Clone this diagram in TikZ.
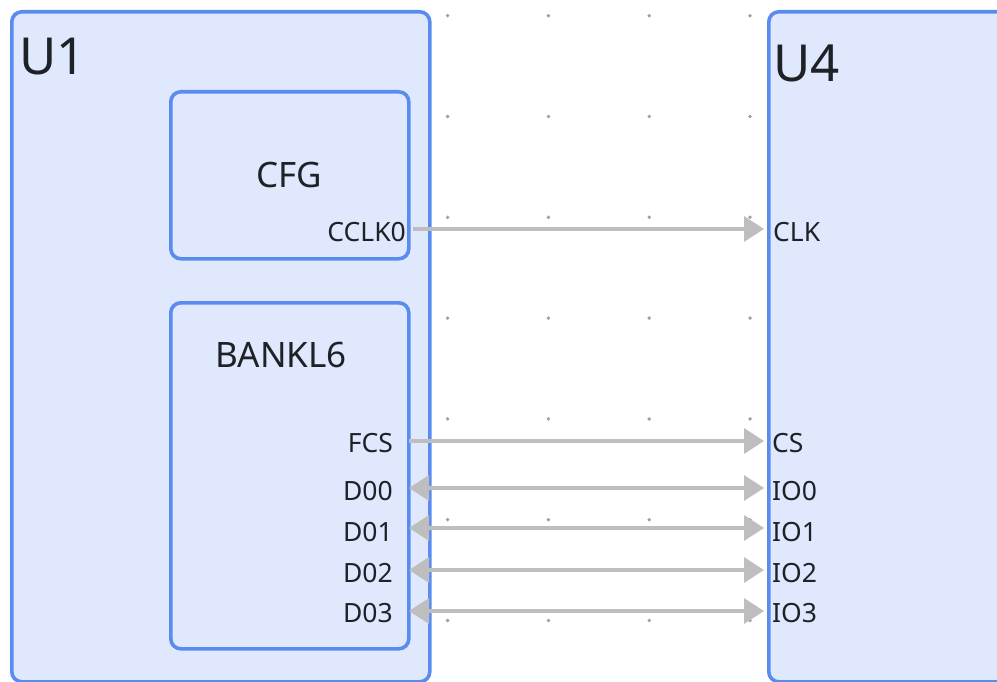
\documentclass[tikz,border=0pt]{standalone}
\usepackage{fontspec}
\setmainfont{Noto Sans}
\usetikzlibrary{arrows.meta}
\definecolor{boxfill}{HTML}{DFE8FC}
\definecolor{boxline}{HTML}{5A8CF0}
\definecolor{wire}{HTML}{BEBEBE}
\definecolor{ink}{HTML}{1E2126}
\definecolor{griddot}{HTML}{A0A0A0}
\begin{document}
\begin{tikzpicture}[x=1pt,y=-1pt,
  chip/.style={draw=boxline, fill=boxfill, line width=3.6pt, rounded corners=10pt,
    anchor=north west, inner sep=0pt},
  title/.style={text=ink, inner sep=0pt, font=\fontsize{51}{60}\selectfont},
  block/.style={text=ink, inner sep=0pt, font=\fontsize{35}{42}\selectfont},
  pinl/.style={text=ink, inner sep=0pt, anchor=base east, font=\fontsize{26.5}{32}\selectfont},
  pinr/.style={text=ink, inner sep=0pt, anchor=base west, font=\fontsize{26.5}{32}\selectfont},
  net/.style={draw=wire, line width=3.5pt},
  >={Triangle[length=20pt,width=25pt]}]
\useasboundingbox (0,0) rectangle (997,682);
\clip (0,0) rectangle (997,682);
\fill[white] (0,0) rectangle (997,682);

% background dot grid
\foreach \i in {0,...,3}
  \foreach \j in {0,...,6}
    \fill[griddot] (447.6+100.8*\i, 15.7+100.8*\j) circle (1.9pt);

% chips and internal blocks
\node[chip, minimum width=418pt, minimum height=670pt] (u1) at (10,10) {};
\node[chip, minimum width=260pt, minimum height=670pt] (u4) at (767,10) {};
\node[chip, minimum width=238pt, minimum height=167pt] (cfg) at (169,90) {};
\node[chip, minimum width=238pt, minimum height=346pt] (bank) at (169,301) {};

% titles
\node[title, anchor=base west] (u1t) at (19,75) {U1};
\node[title, anchor=base west] (u4t) at (773,82) {U4};
\node[block, anchor=base] (cfgt) at (289,188) {CFG};
\node[block, anchor=base] (bankt) at (281,367) {BANKL6};

% pin labels, U1 side
\node[pinl] (lcclk) at (406,242) {CCLK0};
\node[pinl] (lfcs) at (393,452) {FCS};
\node[pinl] (ld0) at (393,500) {D00};
\node[pinl] (ld1) at (393,541) {D01};
\node[pinl] (ld2) at (393,582) {D02};
\node[pinl] (ld3) at (393,622) {D03};

% pin labels, U4 side
\node[pinr] (rclk) at (773,242) {CLK};
\node[pinr] (rcs) at (772,452) {CS};
\node[pinr] (rio0) at (772,500) {IO0};
\node[pinr] (rio1) at (772,541) {IO1};
\node[pinr] (rio2) at (772,582) {IO2};
\node[pinr] (rio3) at (772,622) {IO3};

% pin points
\coordinate (pcclk) at (413,229);
\coordinate (pfcs) at (409,441);
\coordinate (pd0) at (409,488);
\coordinate (pd1) at (409,528);
\coordinate (pd2) at (409,570);
\coordinate (pd3) at (409,611);
\coordinate (pclk) at (764,229);
\coordinate (pcs) at (764,441);
\coordinate (pio0) at (764,488);
\coordinate (pio1) at (764,528);
\coordinate (pio2) at (764,570);
\coordinate (pio3) at (764,611);

% nets
\draw[net, ->] (pcclk) -- (pclk);
\draw[net, ->] (pfcs) -- (pcs);
\draw[net, <->] (pd0) -- (pio0);
\draw[net, <->] (pd1) -- (pio1);
\draw[net, <->] (pd2) -- (pio2);
\draw[net, <->] (pd3) -- (pio3);
\end{tikzpicture}
\end{document}
